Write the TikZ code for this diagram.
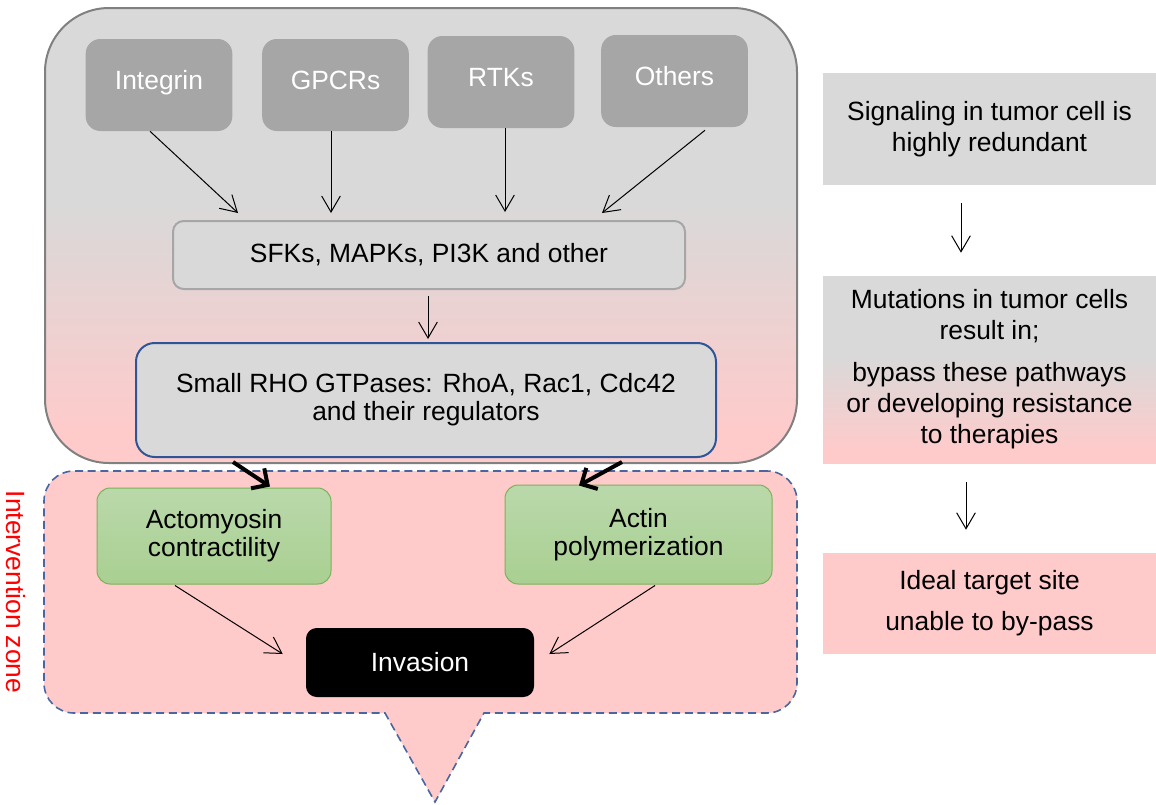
\documentclass[tikz,border=0pt]{standalone}
\usepackage{fontspec}
\setmainfont{Liberation Sans}
\usetikzlibrary{arrows.meta,calc}

\definecolor{panelgray}{HTML}{D9D9D9}
\definecolor{zonepink}{HTML}{FFCACA}
\definecolor{receptor}{HTML}{A6A6A6}
\definecolor{framegray}{HTML}{808080}
\definecolor{rhoblue}{HTML}{2F5597}
\definecolor{greenedge}{HTML}{7CB25A}
\definecolor{greentop}{HTML}{BAD9AB}
\definecolor{greenbot}{HTML}{A9CF91}
\definecolor{dashblue}{HTML}{4A66A0}

% gray at the top fading into pink at the bottom
\pgfdeclareverticalshading{cellshade}{100bp}{color(0bp)=(zonepink); color(28bp)=(zonepink); color(54bp)=(panelgray); color(100bp)=(panelgray)}

\tikzset{
  every node/.style={font=\fontsize{19.8}{21}\selectfont, inner sep=0pt, align=center},
  receptorbox/.style={rectangle, rounded corners=11pt, fill=receptor, text=white,
    minimum width=110pt, minimum height=69pt, text height=13pt, text depth=7pt},
  kinasebox/.style={rectangle, rounded corners=8pt, fill=panelgray, draw=receptor,
    line width=1.5pt},
  rhobox/.style={rectangle, rounded corners=14pt, fill=panelgray, draw=rhoblue,
    line width=1.5pt},
  effectorbox/.style={rectangle, rounded corners=10pt, top color=greentop,
    bottom color=greenbot, draw=greenedge, line width=0.75pt},
  invasionbox/.style={rectangle, rounded corners=8pt, fill=black, text=white},
  sidebox/.style={rectangle, minimum width=249.75pt},
  thinarrow/.style={draw=black, line width=0.75pt,
    -{Straight Barb[length=12pt,width=14pt]}},
  thickarrow/.style={draw=black, line width=3pt,
    -{Straight Barb[length=9pt,width=18pt]}},
}

\begin{document}
\begin{tikzpicture}[x=0.75pt,y=-0.75pt]
\useasboundingbox (0,0) rectangle (1156,804);

% cell panel
\draw[draw=framegray, line width=1.5pt, rounded corners=48pt, shade, shading=cellshade]
  (45,8) rectangle (797,463);

% intervention zone with its downward pointer
\draw[draw=dashblue, line width=1.2pt, dash pattern=on 6pt off 3.5pt, fill=zonepink]
  (767,471) -- (74,471) arc[start angle=90, end angle=180, radius=22.5pt]
  -- (44,683) arc[start angle=180, end angle=270, radius=22.5pt]
  -- (385,713) -- (435,802) -- (484,713)
  -- (767,713) arc[start angle=270, end angle=360, radius=22.5pt]
  -- (797,501) arc[start angle=0, end angle=90, radius=22.5pt] -- cycle;

\node[text=red, rotate=-90] (zone) at (16,592) {Intervention zone};

% receptors
\node[receptorbox] (int) at (159,85) {Integrin};
\node[receptorbox] (gpcr) at (335.5,85) {GPCRs};
\node[receptorbox] (rtk) at (501,82) {RTKs};
\node[receptorbox] (oth) at (674.5,81) {Others};

% signalling
\node[kinasebox, minimum width=384pt, minimum height=51pt] (sfk) at (429,255)
  {SFKs, MAPKs, PI3K and other};
\node[rhobox, minimum width=435pt, minimum height=85.5pt] (rho) at (426,400)
  {Small RHO GTPases: RhoA, Rac1, Cdc42\\and their regulators};

% effectors
\node[effectorbox, minimum width=175.5pt, minimum height=72pt] (acto) at (214,536)
  {Actomyosin\\contractility};
\node[effectorbox, minimum width=200.25pt, minimum height=74.25pt] (actin) at (638.5,534.5)
  {Actin\\polymerization};
\node[invasionbox, minimum width=171pt, minimum height=51.75pt] (inv) at (420,662.5)
  {Invasion};

% connectors
\draw[thinarrow] ($(int.south)+(-9,0)$) -- ($(sfk.north)+(-191,-7)$);
\draw[thinarrow] ($(gpcr.south)+(-4.5,0)$) -- ($(sfk.north)+(-98,-7)$);
\draw[thinarrow] ($(rtk.south)+(4,0)$) -- ($(sfk.north)+(76,-8)$);
\draw[thinarrow] ($(oth.south)+(30.5,3)$) -- ($(sfk.north)+(173,-7)$);
\draw[thinarrow] ($(sfk.south)+(-1,6)$) -- ($(rho.north)+(2,-3)$);
\draw[thickarrow] ($(rho.south)+(-193,4)$) -- ($(acto.north)+(56,-1)$);
\draw[thickarrow] ($(rho.south)+(196,4)$) -- ($(actin.north)+(-59.5,1)$);
\draw[thinarrow] ($(acto.south)+(-39,1)$) -- ($(inv.west)+(-23,-8.5)$);
\draw[thinarrow] ($(actin.south)+(16.5,1)$) -- ($(inv.east)+(15,-8.5)$);

% side column
\node[sidebox, fill=panelgray, minimum height=84pt,
  font=\fontsize{19.8}{23.25}\selectfont] (r1) at (989.5,129)
  {Signaling in tumor cell is\\highly redundant};
\node[sidebox, shade, shading=cellshade, minimum height=140.25pt,
  font=\fontsize{19.8}{23.25}\selectfont] (r2) at (989.5,369.5)
  {Mutations in tumor cells\\result in;\\[8.25pt]bypass these pathways\\or developing resistance\\to therapies};
\node[sidebox, fill=zonepink, minimum height=75.75pt,
  font=\fontsize{19.8}{30.75}\selectfont] (r3) at (989.5,603.5)
  {Ideal target site\\unable to by-pass};

\draw[thinarrow] ($(r1.south)+(-28.5,18)$) -- ($(r2.north)+(-28.5,-23)$);
\draw[thinarrow] ($(r2.south)+(-23.5,19)$) -- ($(r3.north)+(-23.5,-23)$);
\end{tikzpicture}
\end{document}
